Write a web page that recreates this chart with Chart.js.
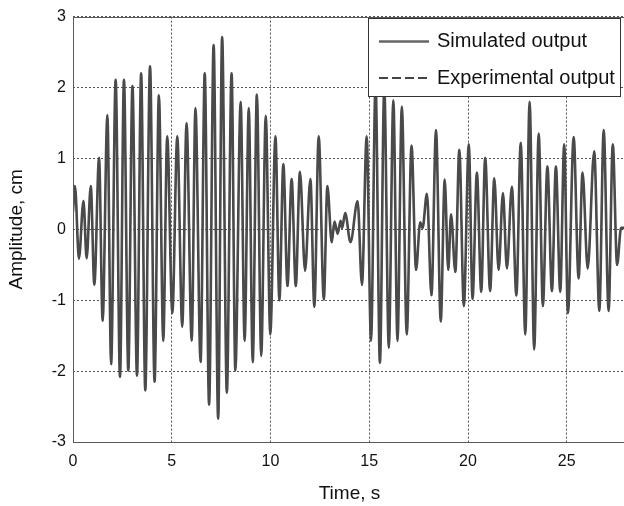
<!DOCTYPE html>
<html>
<head>
<meta charset="utf-8">
<script src="https://cdn.jsdelivr.net/npm/chart.js@4/dist/chart.umd.min.js"></script>
<style>
html,body{margin:0;padding:0;background:#fff;overflow:hidden;width:624px;height:506px;}
canvas{display:block;}
</style>
</head>
<body>
<canvas id="c" width="627" height="506"></canvas>
<script>
// Time (s) at each turning point
const time = [0.00,0.10,0.30,0.53,0.69,0.90,1.08,1.32,1.50,1.74,1.93,2.16,2.38,2.58,2.80,3.01,3.24,3.45,3.66,3.90,
4.13,4.35,4.57,4.77,5.03,5.28,5.53,5.75,6.01,6.20,6.46,6.67,6.89,7.12,7.35,7.55,7.79,8.03,8.22,8.49,
8.69,8.90,9.10,9.31,9.53,9.76,9.99,10.25,10.45,10.65,10.86,11.07,11.28,11.49,11.75,12.02,12.22,12.44,12.70,12.88,
13.10,13.24,13.40,13.55,13.63,13.78,14.05,14.41,14.63,14.87,15.09,15.32,15.54,15.76,15.99,16.22,16.43,16.65,16.90,17.14,
17.37,17.58,17.70,17.92,18.15,18.38,18.62,18.82,19.00,19.14,19.36,19.56,19.79,20.04,20.23,20.45,20.67,20.87,21.12,21.33,
21.55,21.77,21.97,22.22,22.45,22.67,22.90,23.12,23.35,23.58,23.79,24.02,24.25,24.45,24.67,24.87,25.06,25.35,25.60,25.80,
26.06,26.39,26.65,26.87,27.12,27.33,27.55,27.75,27.95];
// Amplitude (cm), simulated output
const simulated = [0.25,0.61,-0.41,0.40,-0.41,0.61,-0.78,1.01,-1.29,1.61,-1.90,2.11,-2.08,2.11,-1.99,2.02,-2.06,2.20,-2.27,2.30,
-2.15,1.89,-1.57,1.31,-1.18,1.31,-1.37,1.50,-1.57,1.71,-1.87,2.20,-2.47,2.60,-2.67,2.71,-2.30,2.20,-1.99,1.80,
-1.57,1.71,-1.87,1.90,-1.78,1.60,-1.48,1.31,-1.00,0.92,-0.80,0.71,-0.80,0.81,-0.58,0.71,-1.09,1.31,-0.99,0.61,
-0.18,0.11,-0.06,0.12,0.02,0.23,-0.18,0.40,-0.78,1.31,-1.57,2.05,-1.88,2.00,-1.67,1.82,-1.57,1.73,-1.48,1.18,
-0.57,0.10,0.02,0.50,-0.93,1.40,-1.30,0.70,-0.57,0.21,-0.60,1.12,-1.08,1.20,-0.98,0.80,-0.88,1.01,-0.87,0.72,
-0.57,0.51,-0.55,0.60,-0.93,1.22,-1.48,1.80,-1.69,1.35,-1.08,0.89,-0.87,0.89,-0.88,1.20,-1.18,1.30,-0.69,0.80,
-0.55,1.10,-1.15,1.40,-1.15,1.20,-0.50,0.02,0.02];
// Amplitude (cm), experimental output
const experimental = [0.25,0.60,-0.42,0.41,-0.40,0.60,-0.79,1.00,-1.30,1.60,-1.91,2.10,-2.09,2.10,-2.00,2.01,-2.07,2.19,-2.28,2.29,
-2.16,1.88,-1.58,1.30,-1.19,1.30,-1.38,1.49,-1.58,1.70,-1.88,2.19,-2.48,2.59,-2.68,2.70,-2.31,2.19,-2.00,1.79,
-1.58,1.70,-1.88,1.89,-1.79,1.59,-1.49,1.30,-1.01,0.91,-0.81,0.70,-0.81,0.80,-0.59,0.70,-1.10,1.30,-1.00,0.60,
-0.19,0.10,-0.07,0.11,0.01,0.22,-0.19,0.39,-0.79,1.30,-1.58,2.04,-1.89,1.99,-1.68,1.81,-1.58,1.72,-1.49,1.17,
-0.58,0.09,0.01,0.49,-0.94,1.39,-1.31,0.69,-0.58,0.20,-0.61,1.11,-1.09,1.19,-0.99,0.79,-0.89,1.00,-0.88,0.71,
-0.58,0.50,-0.56,0.59,-0.94,1.21,-1.49,1.79,-1.70,1.34,-1.09,0.88,-0.88,0.88,-0.89,1.19,-1.19,1.29,-0.70,0.79,
-0.56,1.09,-1.16,1.39,-1.16,1.19,-0.51,0.01,0.01];
const xTicks = [0,5,10,15,20,25];
const yTicks = [-3,-2,-1,0,1,2,3];
const seriesNames = ['Simulated output','Experimental output'];
const xTitle = 'Time, s';
const yTitle = 'Amplitude, cm';

const toPts = vals => time.map((t,i)=>({x:t,y:vals[i]}));

const framePlugin = {
  id:'frameLegend',
  afterDatasetsDraw(chart){
    const ctx = chart.ctx, a = chart.chartArea;
    ctx.save();
    ctx.strokeStyle = '#5a5a5a';
    ctx.lineWidth = 1;
    ctx.setLineDash([]);
    ctx.strokeRect(Math.round(a.left)+0.5, Math.round(a.top)+0.5, Math.round(a.right-a.left), Math.round(a.bottom-a.top));
    // legend box
    const bx = 368.5, by = 18.5, bw = 252, bh = 78;
    ctx.fillStyle = '#fff';
    ctx.fillRect(bx, by, bw, bh);
    ctx.strokeStyle = '#333';
    ctx.strokeRect(bx, by, bw, bh);
    const rows = [41.5, 78];
    ctx.lineWidth = 2.5;
    ctx.strokeStyle = '#666';
    ctx.beginPath(); ctx.moveTo(379, rows[0]); ctx.lineTo(429, rows[0]); ctx.stroke();
    ctx.setLineDash([9,4]);
    ctx.strokeStyle = '#444';
    ctx.lineWidth = 2;
    ctx.beginPath(); ctx.moveTo(379, rows[1]); ctx.lineTo(429, rows[1]); ctx.stroke();
    ctx.setLineDash([]);
    ctx.fillStyle = '#111';
    ctx.font = '20px "Liberation Sans", Arial, sans-serif';
    ctx.textBaseline = 'middle';
    ctx.textAlign = 'left';
    ctx.fillText(seriesNames[0], 437, rows[0]);
    ctx.fillText(seriesNames[1], 437, rows[1]);
    ctx.restore();
  }
};

new Chart(document.getElementById('c'), {
  type:'line',
  data:{
    datasets:[
      {label:seriesNames[0], data:toPts(simulated), borderColor:'#4a4a4a', borderWidth:2.6, pointRadius:0, cubicInterpolationMode:'monotone', fill:false},
      {label:seriesNames[1], data:toPts(experimental), borderColor:'#222', borderWidth:1.2, borderDash:[2,1], pointRadius:0, cubicInterpolationMode:'monotone', fill:false}
    ]
  },
  options:{
    responsive:false,
    animation:false,
    devicePixelRatio:1,
    layout:{padding:{top:13,right:1,bottom:0,left:0}},
    plugins:{legend:{display:false}, tooltip:{enabled:false}},
    scales:{
      x:{
        type:'linear', min:0, max:28,
        afterBuildTicks(s){ s.ticks = xTicks.map(v=>({value:v})); },
        afterFit(s){ s.height = 64; },
        grid:{color:'#555', lineWidth:1, drawTicks:false},
        border:{display:false, dash:[2,2]},
        ticks:{color:'#111', padding:10, maxRotation:0, autoSkip:false, font:{family:'"Liberation Sans", Arial, sans-serif', size:16}},
        title:{display:true, text:xTitle, color:'#111', padding:{top:0,bottom:1}, font:{family:'"Liberation Sans", Arial, sans-serif', size:19}}
      },
      y:{
        type:'linear', min:-3, max:3,
        afterBuildTicks(s){ s.ticks = yTicks.map(v=>({value:v})); },
        afterFit(s){ s.width = 73; },
        grid:{color:'#555', lineWidth:1, drawTicks:false},
        border:{display:false, dash:[2,2]},
        ticks:{color:'#111', padding:7, autoSkip:false, font:{family:'"Liberation Sans", Arial, sans-serif', size:16}},
        title:{display:true, text:yTitle, color:'#111', padding:{top:5,bottom:0}, font:{family:'"Liberation Sans", Arial, sans-serif', size:19}}
      }
    }
  },
  plugins:[framePlugin]
});
</script>
</body>
</html>
